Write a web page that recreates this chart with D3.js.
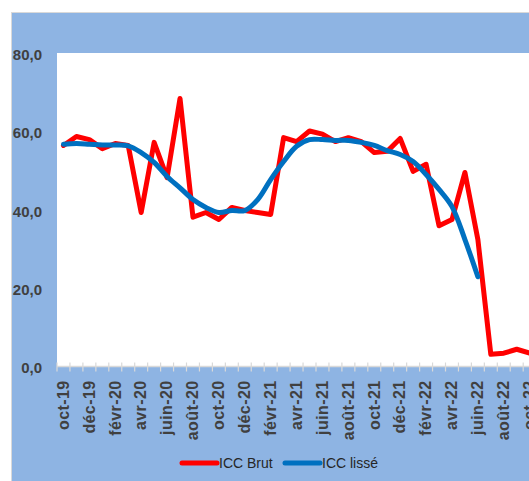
<!DOCTYPE html>
<html lang="fr">
<head>
    <meta charset="UTF-8">
    <title>ICC Brut / ICC lissé</title>
    <script src="https://cdn.jsdelivr.net/npm/d3@7.8.4/dist/d3.min.js"></script>
    <style>
        body { margin: 0; background: #fff; }
        svg { display: block; }
        .ylab { font-family: "Liberation Sans", Arial, sans-serif; font-size: 15px; font-weight: bold; fill: #404040; }
        .xlab { font-family: "Liberation Sans", Arial, sans-serif; font-size: 16px; font-weight: bold; fill: #404040; letter-spacing: 0.4px; }
        .leg { font-family: "Liberation Sans", Arial, sans-serif; font-size: 14px; fill: #262626; }
    </style>
</head>
<body>
<svg id="chart" width="529" height="481"></svg>
<script>
    // Categories (monthly, oct-19 .. oct-22)
    const months = ["oct-19","nov-19","déc-19","janv-20","févr-20","mars-20","avr-20","mai-20","juin-20","juil-20","août-20","sept-20",
        "oct-20","nov-20","déc-20","janv-21","févr-21","mars-21","avr-21","mai-21","juin-21","juil-21","août-21","sept-21",
        "oct-21","nov-21","déc-21","janv-22","févr-22","mars-22","avr-22","mai-22","juin-22","juil-22","août-22","sept-22","oct-22"];

    // ICC Brut
    const iccBrut = [56.4, 58.7, 57.9, 55.6, 56.9, 56.4, 39.3, 57.2, 48.2, 68.4, 38.1, 39.3,
        37.5, 40.6, 39.8, 39.3, 38.8, 58.4, 57.4, 60.1, 59.3, 57.4, 58.4, 57.4,
        54.6, 54.9, 58.2, 49.8, 51.6, 35.9, 37.5, 49.5, 32.4, 3.1, 3.4, 4.4, 3.4];

    // ICC lissé (stops at juin-22)
    const iccLisse = [56.7, 56.9, 56.7, 56.5, 56.5, 56.3, 54.6, 52.1, 48.5, 45.6, 42.6, 40.6,
        39.3, 39.8, 39.8, 42.6, 47.7, 52.3, 56.2, 57.9, 57.9, 57.7, 57.7, 57.2,
        56.4, 55.1, 54.1, 52.3, 49.0, 45.2, 40.8, 32.4, 22.9];

    const yTicks = [0, 20, 40, 60, 80];

    const series = [
        { name: "ICC Brut", values: iccBrut, color: "#FF0000", smooth: false },
        { name: "ICC lissé", values: iccLisse, color: "#0070C0", smooth: true }
    ];

    const svg = d3.select("#chart");
    const plotLeft = 57, plotTop = 53, plotBottom = 366.5, step = 12.95;
    const plotRight = plotLeft + step * months.length;

    // chart area background
    svg.append("rect")
        .attr("x", 11.5).attr("y", 12.5)
        .attr("width", 540).attr("height", 490)
        .attr("fill", "#8EB4E3")
        .attr("stroke", "#D9D9D9");

    svg.append("rect")
        .attr("x", plotLeft).attr("y", plotTop)
        .attr("width", plotRight - plotLeft).attr("height", plotBottom - plotTop)
        .attr("fill", "#fff");

    const x = d3.scaleBand().domain(months).range([plotLeft, plotRight]).padding(0);
    const y = d3.scaleLinear().domain([0, 80]).range([plotBottom, plotTop]);
    const fmt = d => d3.format(".1f")(d).replace(".", ",");

    // y labels
    svg.append("g").selectAll("text")
        .data(yTicks)
        .enter().append("text")
        .attr("class", "ylab")
        .attr("x", 42)
        .attr("y", d => y(d) + 1.5)
        .attr("dy", "0.35em")
        .attr("text-anchor", "end")
        .text(fmt);

    // x axis line + cross ticks
    const axis = svg.append("g");
    axis.append("line")
        .attr("x1", plotLeft).attr("x2", plotRight)
        .attr("y1", plotBottom).attr("y2", plotBottom)
        .attr("stroke", "#D9D9D9").attr("stroke-width", 1.5);
    axis.selectAll(".tick")
        .data(months.concat(["end"]))
        .enter().append("line")
        .attr("x1", (d, i) => plotLeft + i * x.bandwidth())
        .attr("x2", (d, i) => plotLeft + i * x.bandwidth())
        .attr("y1", plotBottom - 4).attr("y2", plotBottom + 5)
        .attr("stroke", "#D9D9D9").attr("stroke-width", 1.2);

    // x labels every other month
    svg.append("g").selectAll("text")
        .data(months.filter((m, i) => i % 2 === 0))
        .enter().append("text")
        .attr("class", "xlab")
        .attr("transform", d => `translate(${x(d) + x.bandwidth() / 2 - 0.5},${plotBottom + 14}) rotate(-90)`)
        .attr("dy", "0.36em")
        .attr("text-anchor", "end")
        .text(d => d);

    // lines
    series.forEach(s => {
        const line = d3.line()
            .x((d, i) => x(months[i]) + x.bandwidth() / 2)
            .y(d => y(d))
            .curve(s.smooth ? d3.curveCatmullRom.alpha(0.5) : d3.curveLinear);
        svg.append("path")
            .datum(s.values)
            .attr("d", line)
            .attr("fill", "none")
            .attr("stroke", s.color)
            .attr("stroke-width", 5)
            .attr("stroke-linejoin", "round")
            .attr("stroke-linecap", "round");
    });

    // legend
    const legX = [182, 285];
    const leg = svg.append("g").selectAll("g")
        .data(series)
        .enter().append("g")
        .attr("transform", (d, i) => `translate(${legX[i]},463)`);
    leg.append("line")
        .attr("x1", 0).attr("x2", 35)
        .attr("stroke", d => d.color)
        .attr("stroke-width", 5)
        .attr("stroke-linecap", "round");
    leg.append("text")
        .attr("class", "leg")
        .attr("x", 37)
        .attr("dy", "0.36em")
        .text(d => d.name);
</script>
</body>
</html>
